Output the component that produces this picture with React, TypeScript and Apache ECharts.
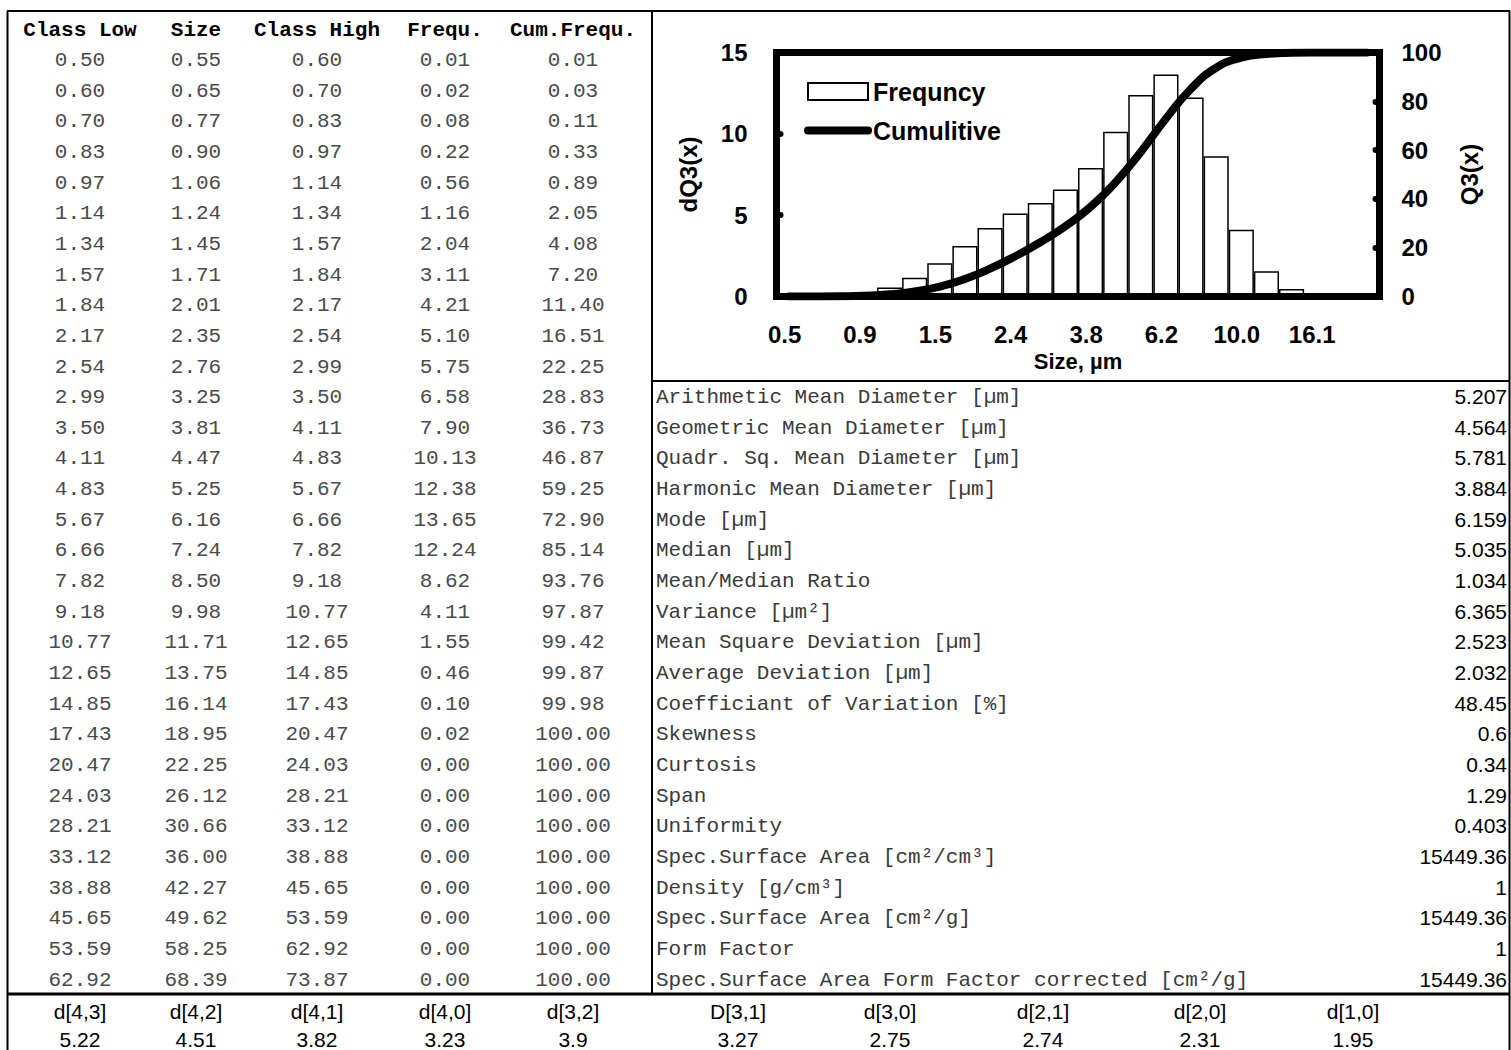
import React, { useEffect, useRef } from 'react';
import * as echarts from 'echarts';

// ---------------- data ----------------
const tableHeaders = ['Class Low', 'Size', 'Class High', 'Frequ.', 'Cum.Frequ.'];

const classLow = [0.50, 0.60, 0.70, 0.83, 0.97, 1.14, 1.34, 1.57, 1.84, 2.17, 2.54, 2.99, 3.50, 4.11, 4.83, 5.67, 6.66, 7.82, 9.18, 10.77, 12.65, 14.85, 17.43, 20.47, 24.03, 28.21, 33.12, 38.88, 45.65, 53.59, 62.92];
const classSize = [0.55, 0.65, 0.77, 0.90, 1.06, 1.24, 1.45, 1.71, 2.01, 2.35, 2.76, 3.25, 3.81, 4.47, 5.25, 6.16, 7.24, 8.50, 9.98, 11.71, 13.75, 16.14, 18.95, 22.25, 26.12, 30.66, 36.00, 42.27, 49.62, 58.25, 68.39];
const classHigh = [0.60, 0.70, 0.83, 0.97, 1.14, 1.34, 1.57, 1.84, 2.17, 2.54, 2.99, 3.50, 4.11, 4.83, 5.67, 6.66, 7.82, 9.18, 10.77, 12.65, 14.85, 17.43, 20.47, 24.03, 28.21, 33.12, 38.88, 45.65, 53.59, 62.92, 73.87];
const frequ = [0.01, 0.02, 0.08, 0.22, 0.56, 1.16, 2.04, 3.11, 4.21, 5.10, 5.75, 6.58, 7.90, 10.13, 12.38, 13.65, 12.24, 8.62, 4.11, 1.55, 0.46, 0.10, 0.02, 0.00, 0.00, 0.00, 0.00, 0.00, 0.00, 0.00, 0.00];
const cumFrequ = [0.01, 0.03, 0.11, 0.33, 0.89, 2.05, 4.08, 7.20, 11.40, 16.51, 22.25, 28.83, 36.73, 46.87, 59.25, 72.90, 85.14, 93.76, 97.87, 99.42, 99.87, 99.98, 100.00, 100.00, 100.00, 100.00, 100.00, 100.00, 100.00, 100.00, 100.00];

const statLabels = [
  'Arithmetic Mean Diameter [µm]',
  'Geometric Mean Diameter [µm]',
  'Quadr. Sq. Mean Diameter [µm]',
  'Harmonic Mean Diameter [µm]',
  'Mode [µm]',
  'Median [µm]',
  'Mean/Median Ratio',
  'Variance [µm²]',
  'Mean Square Deviation [µm]',
  'Average Deviation [µm]',
  'Coefficiant of Variation [%]',
  'Skewness',
  'Curtosis',
  'Span',
  'Uniformity',
  'Spec.Surface Area [cm²/cm³]',
  'Density [g/cm³]',
  'Spec.Surface Area [cm²/g]',
  'Form Factor',
  'Spec.Surface Area Form Factor corrected [cm²/g]',
];
const statValues = ['5.207', '4.564', '5.781', '3.884', '6.159', '5.035', '1.034', '6.365', '2.523', '2.032', '48.45', '0.6', '0.34', '1.29', '0.403', '15449.36', '1', '15449.36', '1', '15449.36'];

const diamLabels = ['d[4,3]', 'd[4,2]', 'd[4,1]', 'd[4,0]', 'd[3,2]', 'D[3,1]', 'd[3,0]', 'd[2,1]', 'd[2,0]', 'd[1,0]'];
const diamValues = ['5.22', '4.51', '3.82', '3.23', '3.9', '3.27', '2.75', '2.74', '2.31', '1.95'];

const chartClassCount = 24;
const xTickLabels = ['0.5', '0.9', '1.5', '2.4', '3.8', '6.2', '10.0', '16.1'];
const seriesNames = ['Frequncy', 'Cumulitive'];

// ---------------- layout ----------------
const W = 1511;
const H = 1050;
const colCenters = [80, 196, 317, 445, 573];
const diamCenters = [80, 196, 317, 445, 573, 738, 890, 1043, 1200, 1353];
const rowY = (k: number) => 60.5 + 30.65 * k;
const MONO = "'Liberation Mono', 'Courier New', monospace";
const SANS = "'Liberation Sans', Arial, Helvetica, sans-serif";

function buildGraphics() {
  const g: any[] = [];
  const line = (x1: number, y1: number, x2: number, y2: number, w: number) =>
    g.push({ type: 'line', silent: true, shape: { x1, y1, x2, y2 }, style: { stroke: '#000', lineWidth: w } });
  const text = (s: string, x: number, y: number, opts: any) =>
    g.push({ type: 'text', silent: true, x, y, style: { text: s, verticalAlign: 'middle', ...opts } });

  // borders
  line(7, 11, W - 1, 11, 2);
  line(7.5, 11, 7.5, H, 2);
  line(W - 1.5, 11, W - 1.5, H, 2);
  line(652, 11, 652, 994, 2);
  line(652, 381, W - 1, 381, 2);
  line(7, 994, W - 1, 994, 3);

  tableHeaders.forEach((h, i) =>
    text(h, colCenters[i], 30, { align: 'center', font: `bold 21px ${MONO}`, fill: '#000' })
  );
  const cols = [classLow, classSize, classHigh, frequ, cumFrequ];
  for (let k = 0; k < classLow.length; k++) {
    cols.forEach((c, i) =>
      text(c[k].toFixed(2), colCenters[i], rowY(k), { align: 'center', font: `21px ${MONO}`, fill: '#4a4a4a' })
    );
  }
  statLabels.forEach((s, j) => {
    text(s, 656, rowY(11 + j), { align: 'left', font: `21px ${MONO}`, fill: '#3a3a3a' });
    text(statValues[j], 1507, rowY(11 + j) - 1, { align: 'right', font: `21px ${SANS}`, fill: '#000' });
  });
  diamLabels.forEach((s, i) => {
    text(s, diamCenters[i], 1011, { align: 'center', font: `21px ${SANS}`, fill: '#000' });
    text(diamValues[i], diamCenters[i], 1039, { align: 'center', font: `21px ${SANS}`, fill: '#000' });
  });
  return g;
}

export default function App() {
  const ref = useRef<HTMLDivElement>(null);
  useEffect(() => {
    if (!ref.current) return;
    const chart = echarts.init(ref.current, null, { renderer: 'svg', width: W, height: H });
    const cats = classSize.slice(0, chartClassCount).map((v) => v.toFixed(2));
    const axisFont = { fontFamily: SANS, fontWeight: 'bold' as const, fontSize: 24, color: '#000' };
    const tick = { show: true, inside: true, length: 4, lineStyle: { color: '#000', width: 6, cap: 'round' } };
    chart.setOption({
      animation: false,
      backgroundColor: '#fff',
      grid: {
        left: 776.5, top: 52.5, width: 603, height: 244,
        show: true, borderColor: '#000', borderWidth: 7, backgroundColor: 'transparent', z: 10,
      },
      legend: {
        orient: 'vertical', left: 799, top: 74,
        itemWidth: 60, itemHeight: 17, itemGap: 14,
        textStyle: { fontFamily: SANS, fontWeight: 'bold', fontSize: 25, color: '#000' },
        data: [
          { name: seriesNames[0], icon: 'rect' },
          { name: seriesNames[1], itemStyle: { opacity: 0 }, lineStyle: { width: 8, cap: 'round', color: '#000' } },
        ],
      },
      xAxis: {
        type: 'category', data: cats,
        axisLine: { show: false }, axisTick: { show: false }, splitLine: { show: false },
        axisLabel: {
          ...axisFont, interval: 2, margin: 26, padding: [0, 9, 0, 0],
          formatter: (_v: string, i: number) => xTickLabels[i / 3] ?? '',
        },
        name: 'Size, µm', nameLocation: 'middle', nameGap: 54,
        nameTextStyle: { ...axisFont, fontSize: 22 },
      },
      yAxis: [
        {
          type: 'value', min: 0, max: 15, interval: 5, position: 'left',
          axisLine: { show: false }, axisTick: tick, splitLine: { show: false },
          axisLabel: { ...axisFont, margin: 29 },
          name: 'dQ3(x)', nameLocation: 'middle', nameGap: 76,
          nameTextStyle: { ...axisFont, fontSize: 24 },
        },
        {
          type: 'value', min: 0, max: 100, interval: 20, position: 'right',
          axisLine: { show: false }, axisTick: tick, splitLine: { show: false },
          axisLabel: { ...axisFont, margin: 22 },
          name: 'Q3(x)', nameLocation: 'middle', nameGap: 78,
          nameTextStyle: { ...axisFont, fontSize: 24 },
        },
      ],
      series: [
        {
          type: 'bar', name: seriesNames[0], data: frequ.slice(0, chartClassCount),
          barCategoryGap: '0%', itemStyle: { color: '#fff', borderColor: '#000', borderWidth: 1.5 },
        },
        {
          type: 'line', name: seriesNames[1], yAxisIndex: 1, data: cumFrequ.slice(0, chartClassCount),
          smooth: true, symbol: 'none', z: 3,
          lineStyle: { width: 8, color: '#000', cap: 'round' }, itemStyle: { color: '#000' },
        },
      ],
      graphic: buildGraphics(),
    });
    return () => chart.dispose();
  }, []);
  return <div ref={ref} style={{ position: 'fixed', left: 0, top: 0, width: W, height: H, background: '#fff' }} />;
}
